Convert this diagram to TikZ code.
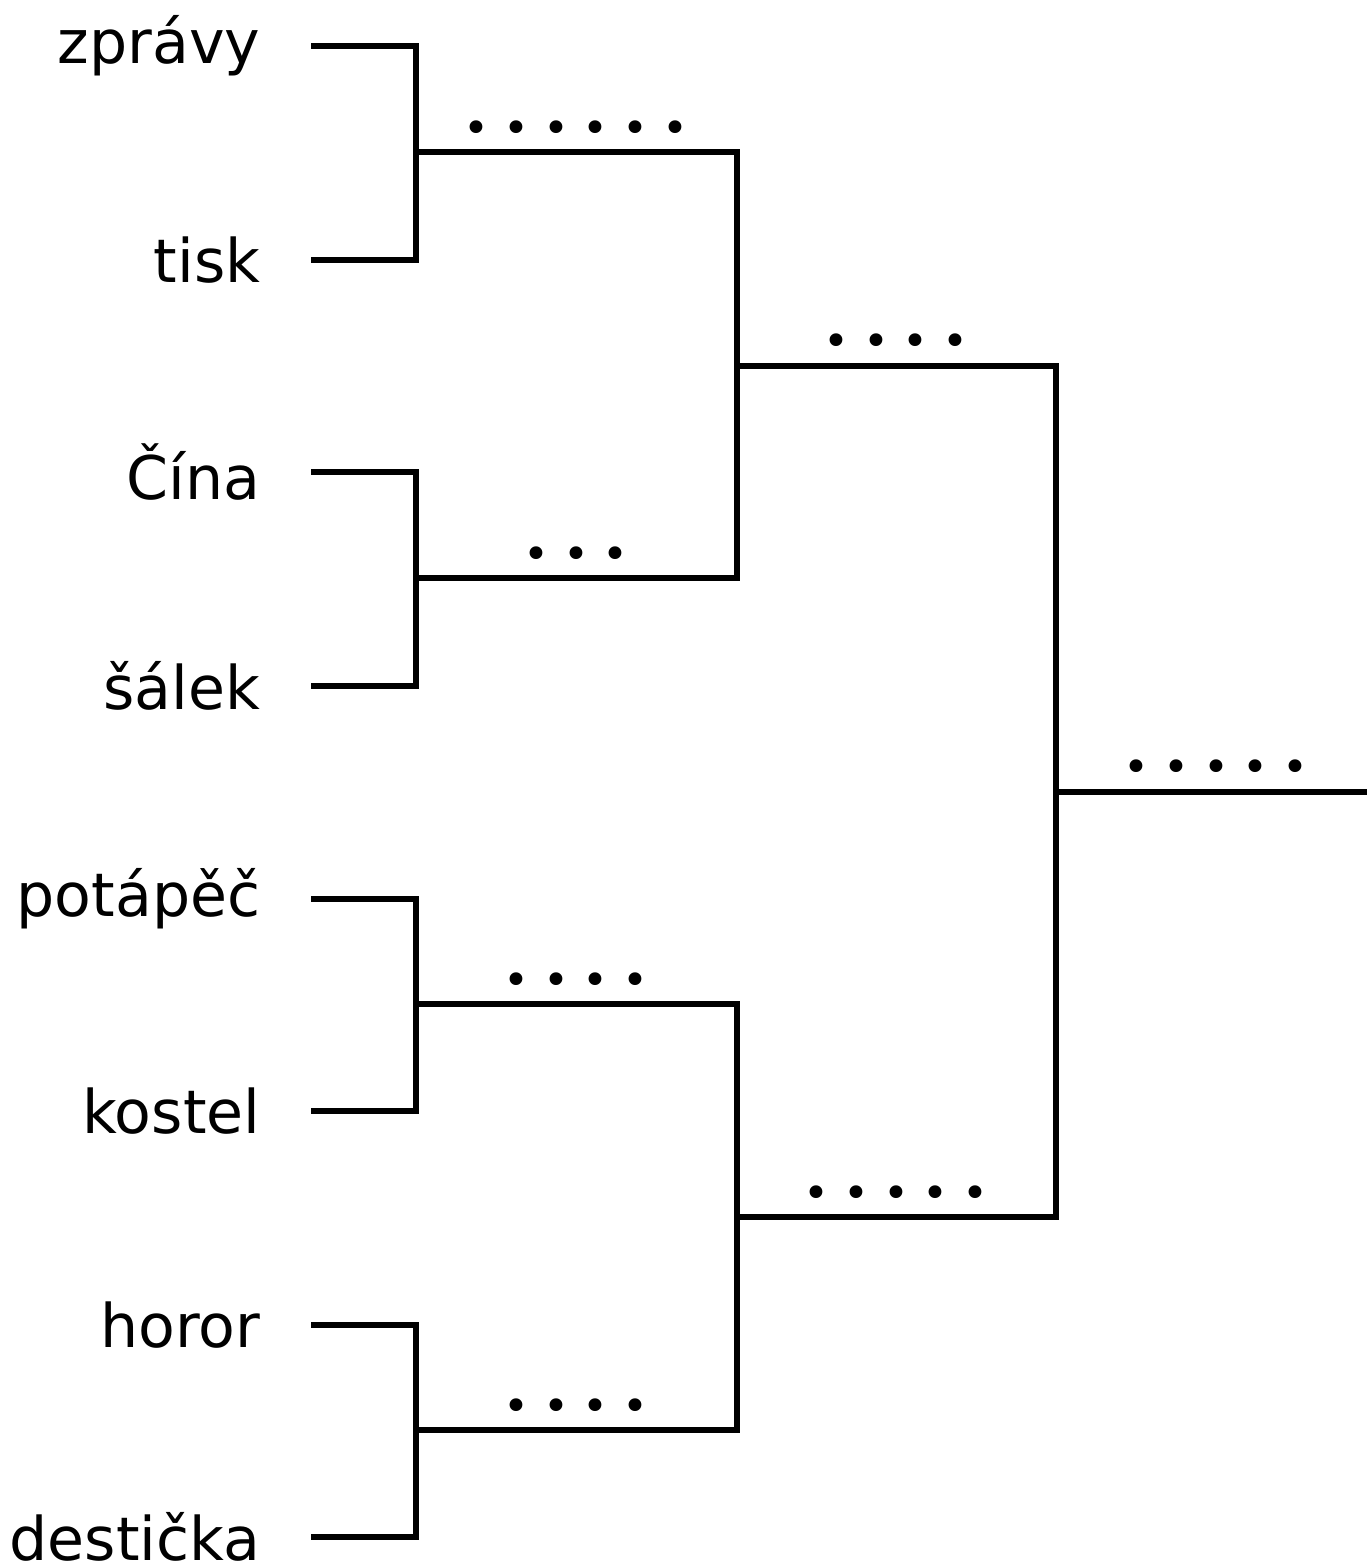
\documentclass[tikz,border=0pt]{standalone}
\usepackage{fontspec}
\setmainfont{DejaVu Sans}
\tikzset{
    word/.style={anchor=east, inner sep=0pt, font=\fontsize{17.1}{20}\selectfont},
    dots/.style={inner sep=0pt, font=\fontsize{12.5}{15}\selectfont},
}
\begin{document}
\begin{tikzpicture}[x=0.01cm, y=-0.01cm, line width=0.055cm, line join=miter]
    \useasboundingbox (0,0) rectangle (1367,1565);

    \node[word] (zpravy)   at (263,46)   {zprávy};
    \node[word] (tisk)     at (263,260)  {tisk};
    \node[word] (cina)     at (263,472)  {Čína};
    \node[word] (salek)    at (263,686)  {šálek};
    \node[word] (potapec)  at (263,899)  {potápěč};
    \node[word] (kostel)   at (263,1111) {kostel};
    \node[word] (horor)    at (263,1325) {horor};
    \node[word] (desticka) at (263,1537) {destička};

    \coordinate (s1) at (311,46);
    \coordinate (s2) at (311,260);
    \coordinate (s3) at (311,472);
    \coordinate (s4) at (311,686);
    \coordinate (s5) at (311,899);
    \coordinate (s6) at (311,1111);
    \coordinate (s7) at (311,1325);
    \coordinate (s8) at (311,1537);

    \coordinate (a1) at (416,152);
    \coordinate (a2) at (416,578);
    \coordinate (a3) at (416,1004);
    \coordinate (a4) at (416,1430);
    \coordinate (b1) at (737,366);
    \coordinate (b2) at (737,1217);
    \coordinate (c1) at (1056,792);
    \coordinate (win) at (1367,792);

    \draw (s1) -| (a1) |- (s2);
    \draw (s3) -| (a2) |- (s4);
    \draw (s5) -| (a3) |- (s6);
    \draw (s7) -| (a4) |- (s8);
    \draw (a1) -| (b1) |- (a2);
    \draw (a3) -| (b2) |- (a4);
    \draw (b1) -| (c1) |- (b2);
    \draw (c1) -- (win);

    \node[dots] (d1) at (576,132)  {• • • • • •};
    \node[dots] (d2) at (576,558)  {• • •};
    \node[dots] (d3) at (576,984)  {• • • •};
    \node[dots] (d4) at (576,1410) {• • • •};
    \node[dots] (d5) at (896,345)  {• • • •};
    \node[dots] (d6) at (896,1197) {• • • • •};
    \node[dots] (d7) at (1216,771) {• • • • •};
\end{tikzpicture}
\end{document}
